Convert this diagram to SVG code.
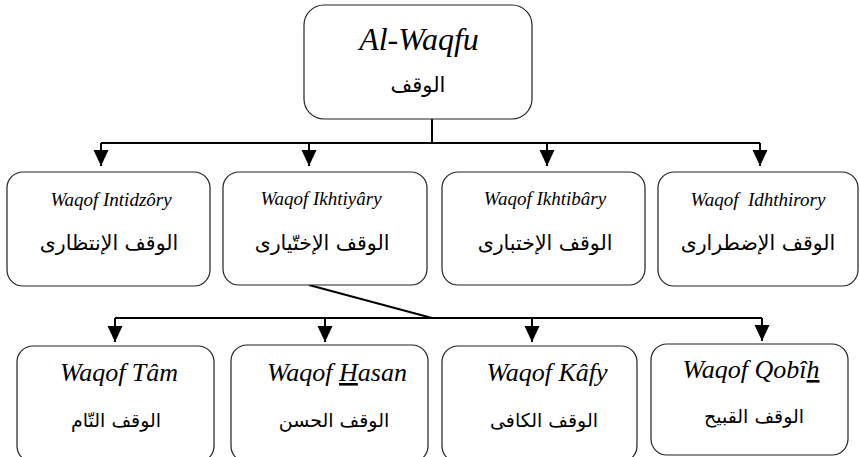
<svg xmlns="http://www.w3.org/2000/svg" width="860" height="457" viewBox="0 0 860 457">
<defs>
<style>
.box{fill:#fff;stroke:#222;stroke-width:1.2}
.en{font-family:"Liberation Serif","Times New Roman",serif;font-style:italic;fill:#000;text-anchor:middle}
.ar{font-family:"DejaVu Sans","Noto Sans",sans-serif;fill:#000;text-anchor:middle}
.ln{fill:none;stroke:#000;stroke-width:2}
</style>
<marker id="ah" markerUnits="userSpaceOnUse" markerWidth="16" markerHeight="16" refX="16" refY="7.5" orient="auto" viewBox="0 0 16 15">
<path d="M0,0 L16,7.5 L0,15 z" fill="#000"/>
</marker>
</defs>
<rect width="860" height="457" fill="#fff"/>
<g id="connectors">
<path class="ln" d="M432,119 V143"/>
<path class="ln" d="M101,143 H760"/>
<path class="ln" d="M101,143 V166" marker-end="url(#ah)"/>
<path class="ln" d="M309,143 V166" marker-end="url(#ah)"/>
<path class="ln" d="M547,143 V166" marker-end="url(#ah)"/>
<path class="ln" d="M760,143 V166" marker-end="url(#ah)"/>
<path class="ln" d="M309,285 L432,318"/>
<path class="ln" d="M115,318 H762"/>
<path class="ln" d="M115,318 V342" marker-end="url(#ah)"/>
<path class="ln" d="M325,318 V342" marker-end="url(#ah)"/>
<path class="ln" d="M532,318 V342" marker-end="url(#ah)"/>
<path class="ln" d="M762,318 V341" marker-end="url(#ah)"/>
</g>
<g id="n-waqfu">
<rect class="box" x="304" y="5" width="228" height="114" rx="20"/>
<text class="en" x="419" y="50" font-size="32">Al-Waqfu</text>
<text class="ar" x="418" y="92" font-size="21">الوقف</text>
</g>
<g id="n-intidzory">
<rect class="box" x="7" y="172" width="203" height="114" rx="16"/>
<text class="en" x="111" y="206" font-size="19">Waqof Intidzôry</text>
<text class="ar" x="109" y="250" font-size="20.5">الوقف الإنتظارى</text>
</g>
<g id="n-ikhtiyary">
<rect class="box" x="223" y="172" width="204" height="113" rx="16"/>
<text class="en" x="321" y="205" font-size="19">Waqof Ikhtiyâry</text>
<text class="ar" x="322" y="250" font-size="20.5">الوقف الإختّيارى</text>
</g>
<g id="n-ikhtibary">
<rect class="box" x="442" y="172" width="203" height="113" rx="16"/>
<text class="en" x="545" y="205" font-size="19">Waqof Ikhtibâry</text>
<text class="ar" x="545" y="250" font-size="20.5">الوقف الإختبارى</text>
</g>
<g id="n-idhthirory">
<rect class="box" x="658" y="172" width="200" height="114" rx="16"/>
<text class="en" x="758" y="206" font-size="19" xml:space="preserve">Waqof  Idhthirory</text>
<text class="ar" x="758" y="250" font-size="20.5">الوقف الإضطرارى</text>
</g>
<g id="n-tam">
<rect class="box" x="17" y="346" width="197" height="116" rx="16"/>
<text class="en" x="119" y="381" font-size="26">Waqof Tâm</text>
<text class="ar" x="116" y="427" font-size="19">الوقف التّام</text>
</g>
<g id="n-hasan">
<rect class="box" x="231" y="345" width="197" height="117" rx="16"/>
<text class="en" x="337" y="381" font-size="26">Waqof <tspan text-decoration="underline">H</tspan>asan</text>
<text class="ar" x="334" y="427" font-size="19">الوقف الحسن</text>
</g>
<g id="n-kafy">
<rect class="box" x="442" y="346" width="195" height="116" rx="16"/>
<text class="en" x="547" y="381" font-size="26">Waqof Kâfy</text>
<text class="ar" x="544" y="427" font-size="19">الوقف الكافى</text>
</g>
<g id="n-qobih">
<rect class="box" x="651" y="344" width="197" height="111" rx="16"/>
<text class="en" x="751" y="378" font-size="26">Waqof Qobî<tspan text-decoration="underline">h</tspan></text>
<text class="ar" x="754" y="423" font-size="19">الوقف القبيح</text>
</g>
</svg>
